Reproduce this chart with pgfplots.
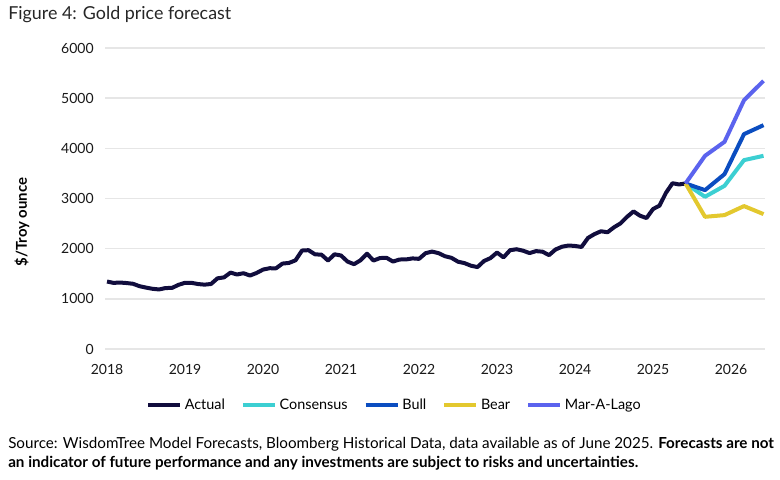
\documentclass[border=0pt]{standalone}
\usepackage{pgfplots}
\pgfplotsset{compat=1.18}
\usepackage{fontspec}
\setmainfont{Lato}
\definecolor{cActual}{HTML}{110D3D}
\definecolor{cCons}{HTML}{3CCFD2}
\definecolor{cBull}{HTML}{0B4DC0}
\definecolor{cBear}{HTML}{E3C82E}
\definecolor{cMAL}{HTML}{5B63EE}
\definecolor{cGrid}{HTML}{E6E6E6}
\pgfplotstableread{
idx val
0 1345
1 1318
2 1325
3 1315
4 1300
5 1252
6 1224
7 1200
8 1187
9 1215
10 1218
11 1279
12 1320
13 1319
14 1295
15 1283
16 1296
17 1409
18 1428
19 1523
20 1485
21 1511
22 1464
23 1515
24 1583
25 1610
26 1609
27 1703
28 1716
29 1768
30 1963
31 1970
32 1887
33 1880
34 1763
35 1888
36 1864
37 1743
38 1691
39 1768
40 1900
41 1763
42 1813
43 1818
44 1743
45 1784
46 1785
47 1806
48 1797
49 1909
50 1942
51 1911
52 1849
53 1817
54 1740
55 1712
56 1660
57 1633
58 1754
59 1813
60 1923
61 1826
62 1969
63 1989
64 1960
65 1912
66 1951
67 1940
68 1871
69 1983
70 2039
71 2063
72 2054
73 2034
74 2214
75 2291
76 2347
77 2327
78 2426
79 2504
80 2634
81 2743
82 2657
83 2610
84 2790
85 2858
86 3115
87 3305
88 3280
89 3300
}\actual
\pgfplotstableread{
idx cons bull bear mal
89 3300 3300 3300 3300
92 3034 3167 2635 3851
95 3253 3486 2669 4130
98 3765 4283 2849 4960
101 3851 4462 2689 5345
}\fcst
\begin{document}
\begin{tikzpicture}[x=0.75pt,y=0.75pt]
\path[use as bounding box] (0,0) rectangle (780,479);
\node[anchor=west, inner sep=0, font=\fontsize{13.4}{15}\selectfont, text=black!85] at (8,464) {Figure 4: Gold price forecast};
\node[rotate=90, inner sep=0, font=\bfseries\fontsize{11.2}{12}\selectfont] at (22,257) {\$/Troy ounce};
\begin{axis}[
  at={(78.75pt,97.5pt)}, anchor=south west,
  scale only axis, width=495pt, height=225.75pt,
  xmin=-0.31, xmax=101.23, ymin=0, ymax=6000,
  axis line style={draw=none},
  major tick length=0pt,
  ymajorgrids, grid style={color=cGrid, line width=1.1pt},
  ytick={0,1000,...,6000},
  xtick={0,12,...,96},
  xticklabels={2018,2019,2020,2021,2022,2023,2024,2025,2026},
  /pgf/number format/assume math mode=true,
  /pgf/number format/1000 sep={},
  scaled y ticks=false,
  ticklabel style={font=\fontsize{10.5}{12}\selectfont, text=black!90},
  yticklabel style={xshift=-5pt},
  xticklabel style={yshift=-8pt},
  legend style={at={(axis description cs:0.439,-0.186)}, anchor=center, draw=none, fill=none,
    legend columns=-1, font=\fontsize{10.8}{12}\selectfont,
    /tikz/every even column/.append style={column sep=10pt}},
  legend image code/.code={\draw[#1, line width=3pt] (0pt,0pt) -- (24pt,0pt);},
  every axis plot/.append style={line width=3pt, line join=round, mark=none},
]
\addplot[cActual] table[x=idx, y=val] {\actual};
\addlegendentry{Actual}
\addplot[cCons] table[x=idx, y=cons] {\fcst};
\addlegendentry{Consensus}
\addplot[cBull] table[x=idx, y=bull] {\fcst};
\addlegendentry{Bull}
\addplot[cBear] table[x=idx, y=bear] {\fcst};
\addlegendentry{Bear}
\addplot[cMAL] table[x=idx, y=mal] {\fcst};
\addlegendentry{Mar-A-Lago}
\end{axis}
\node[anchor=north west, align=left, inner sep=0, font=\fontsize{11.4}{14.25}\selectfont] at (8,42) {Source: WisdomTree Model Forecasts, Bloomberg Historical Data, data available as of June 2025. \textbf{Forecasts are not}\\\textbf{an indicator of future performance and any investments are subject to risks and uncertainties.}};
\end{tikzpicture}
\end{document}
